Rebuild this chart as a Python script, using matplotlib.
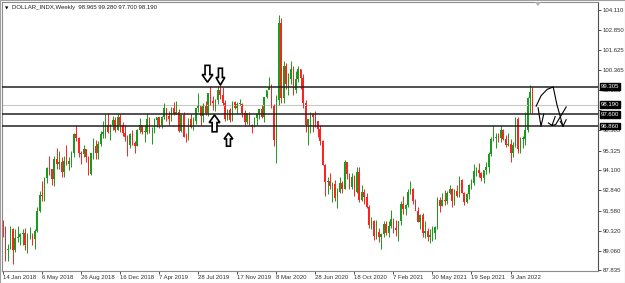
import matplotlib
matplotlib.use("Agg")
import matplotlib.pyplot as plt
from matplotlib.patches import Polygon, Rectangle
import numpy as np
import pandas as pd

plt.rcParams["font.family"] = ["Liberation Sans", "DejaVu Sans"]

# weekly candles, first week starts 14 Jan 2018
first_week = "2018-01-14"

opens = [90.95, 90.55, 89.10, 89.20, 90.40, 89.10, 89.85, 89.95, 90.10, 90.20,
         89.45, 90.10, 90.10, 89.80, 90.30, 91.55, 92.55, 92.50, 93.60, 94.25,
         94.15, 93.55, 94.80, 94.50, 94.60, 94.00, 94.65, 94.50, 94.65, 95.15,
         96.35, 96.10, 95.15, 95.10, 95.40, 94.95, 93.85, 95.15, 95.60, 95.20,
         95.75, 96.35, 96.50, 96.90, 96.50, 96.90, 97.25, 96.60, 97.45, 96.95,
         96.40, 96.20, 95.65, 96.35, 95.80, 95.60, 96.60, 96.90, 96.50, 96.50,
         97.30, 96.60, 96.60, 97.25, 97.40, 96.90, 97.40, 98.00, 97.50, 97.30,
         98.00, 97.60, 97.75, 96.55, 97.55, 96.20, 96.15, 97.30, 96.80, 97.15,
         98.00, 98.10, 97.50, 98.15, 97.65, 98.90, 98.40, 98.30, 98.50, 99.10,
         98.80, 98.30, 97.30, 97.85, 97.25, 98.35, 98.00, 98.25, 98.25, 97.70,
         97.10, 97.70, 96.95, 96.80, 97.35, 97.60, 97.90, 97.40, 98.70, 99.10,
         99.30, 98.10, 96.00, 98.50, 103.30, 98.60, 100.60, 99.50, 99.80, 100.40,
         99.10, 99.80, 100.40, 99.85, 98.30, 96.90, 97.30, 97.60, 97.40, 97.20,
         96.65, 95.90, 94.40, 93.35, 93.40, 93.10, 93.25, 92.35, 92.75, 93.30,
         92.95, 94.60, 93.85, 93.05, 93.70, 92.75, 94.00, 92.25, 92.75, 92.40,
         91.80, 90.70, 90.95, 90.00, 90.25, 89.90, 90.10, 90.75, 90.20, 90.60,
         91.05, 90.50, 90.35, 90.90, 92.00, 91.65, 91.90, 92.75, 92.95, 92.15,
         91.55, 90.85, 91.30, 90.20, 90.30, 89.95, 90.05, 90.15, 90.55, 92.25,
         91.85, 92.25, 92.15, 92.70, 92.90, 92.15, 92.80, 92.50, 93.50, 92.70,
         92.10, 92.60, 93.20, 93.30, 94.05, 94.10, 93.95, 93.60, 94.10, 94.30,
         95.10, 96.05, 96.10, 96.15, 96.10, 96.60, 96.05, 95.70, 95.75, 95.20,
         95.65, 97.30, 95.45, 96.05, 96.05, 96.60, 98.60, 98.965]
highs = [91.00, 90.60, 89.50, 90.60, 90.50, 90.40, 90.60, 90.20, 90.40, 90.50,
         90.20, 90.55, 90.20, 90.40, 91.80, 92.80, 93.40, 93.65, 94.30, 95.00,
         94.20, 95.00, 95.50, 95.30, 94.90, 95.00, 95.65, 94.90, 95.30, 96.40,
         96.95, 96.20, 95.30, 95.70, 95.40, 95.00, 95.20, 96.10, 96.00, 95.95,
         96.55, 97.20, 97.60, 97.70, 97.00, 97.50, 97.40, 97.70, 97.60, 97.10,
         96.95, 96.30, 96.45, 96.60, 95.90, 96.65, 97.35, 96.95, 96.90, 97.70,
         97.40, 96.80, 97.35, 97.40, 97.40, 97.50, 98.30, 98.00, 97.80, 98.05,
         98.35, 98.40, 97.90, 97.60, 97.75, 96.40, 97.35, 97.60, 97.40, 98.00,
         98.95, 98.10, 98.30, 98.45, 98.95, 99.35, 98.75, 98.55, 99.35, 99.65,
         99.30, 98.50, 97.90, 98.00, 98.45, 98.45, 98.35, 98.55, 98.30, 97.85,
         97.70, 97.75, 97.00, 97.45, 97.40, 97.90, 98.20, 98.70, 99.10, 99.90,
         99.50, 98.25, 98.80, 103.80, 103.60, 100.90, 100.80, 100.20, 100.90, 100.60,
         100.30, 100.60, 100.40, 100.10, 98.50, 97.30, 97.75, 97.70, 97.80, 97.20,
         96.90, 96.00, 94.50, 93.70, 93.95, 93.35, 93.50, 93.00, 93.65, 93.40,
         94.75, 94.60, 93.95, 93.90, 93.80, 94.30, 94.30, 93.20, 92.90, 92.70,
         91.95, 91.20, 91.00, 91.00, 90.50, 90.20, 90.95, 90.95, 90.95, 91.60,
         91.10, 91.00, 90.95, 92.15, 92.50, 92.00, 92.95, 93.45, 93.00, 92.30,
         91.80, 91.35, 91.40, 90.90, 90.50, 90.40, 90.60, 90.60, 92.40, 92.40,
         92.70, 92.85, 92.80, 93.20, 93.00, 92.90, 93.20, 93.75, 93.55, 92.75,
         92.70, 93.25, 93.55, 94.50, 94.30, 94.55, 94.00, 94.10, 94.60, 95.25,
         96.20, 96.95, 96.40, 96.45, 96.95, 96.65, 96.30, 96.45, 96.05, 95.85,
         97.45, 97.45, 96.20, 96.25, 97.75, 98.70, 99.40, 99.28]
lows = [89.95, 88.45, 88.40, 89.15, 88.25, 89.00, 89.60, 89.40, 89.40, 89.10,
        88.95, 89.80, 89.40, 89.20, 90.25, 91.50, 92.20, 92.20, 93.30, 93.80,
        93.20, 93.10, 94.20, 94.20, 93.70, 93.70, 94.40, 94.10, 94.30, 94.90,
        95.90, 94.90, 94.50, 94.90, 94.60, 93.80, 93.80, 94.80, 94.80, 94.80,
        95.60, 96.10, 96.10, 96.40, 96.00, 96.60, 96.50, 96.60, 96.50, 96.25,
        95.95, 95.00, 95.50, 95.70, 95.15, 95.60, 96.40, 96.35, 95.85, 96.35,
        96.40, 95.75, 96.40, 96.80, 96.75, 96.75, 97.30, 97.20, 96.95, 97.20,
        97.55, 97.60, 96.50, 96.50, 96.15, 95.85, 96.00, 96.75, 96.60, 97.00,
        97.75, 96.95, 97.10, 97.55, 97.50, 98.15, 97.85, 97.80, 98.25, 98.55,
        98.20, 97.20, 97.25, 97.10, 97.20, 97.90, 97.70, 98.15, 97.40, 96.85,
        97.00, 96.85, 96.40, 96.80, 96.95, 97.30, 97.35, 97.10, 98.60, 99.20,
        98.00, 95.60, 94.55, 98.20, 98.30, 98.30, 99.20, 98.80, 99.50, 98.80,
        98.90, 99.60, 99.20, 98.00, 96.50, 95.70, 96.40, 96.50, 96.80, 96.20,
        95.70, 94.40, 92.50, 92.60, 92.90, 92.10, 92.20, 91.75, 92.70, 92.70,
        92.90, 93.55, 92.95, 92.95, 92.50, 92.70, 92.10, 92.15, 92.00, 91.75,
        90.50, 90.45, 89.75, 89.80, 89.60, 89.20, 89.95, 90.05, 89.95, 90.50,
        90.20, 90.00, 89.70, 90.70, 91.35, 91.30, 91.80, 92.60, 92.00, 91.60,
        90.85, 90.40, 89.95, 89.85, 89.70, 89.55, 89.65, 89.80, 90.40, 91.50,
        91.85, 91.90, 92.00, 92.60, 91.80, 91.95, 92.45, 92.45, 92.65, 91.95,
        92.05, 92.30, 92.95, 93.20, 93.75, 93.70, 93.45, 93.30, 93.85, 93.90,
        95.00, 95.95, 95.50, 95.85, 95.85, 96.00, 95.55, 95.60, 94.60, 94.95,
        95.55, 95.15, 95.15, 95.50, 95.70, 96.50, 97.70, 97.70]
closes = [90.55, 89.10, 89.20, 90.40, 89.10, 89.85, 89.95, 90.10, 90.20, 89.45,
          90.10, 90.10, 89.80, 90.30, 91.55, 92.55, 92.50, 93.60, 94.25, 94.15,
          93.55, 94.80, 94.50, 94.60, 94.00, 94.65, 94.50, 94.65, 95.15, 96.35,
          96.10, 95.15, 95.10, 95.40, 94.95, 93.85, 95.15, 95.60, 95.20, 95.75,
          96.35, 96.50, 96.90, 96.50, 96.90, 97.25, 96.60, 97.45, 96.95, 96.40,
          96.20, 95.65, 96.35, 95.80, 95.60, 96.60, 96.90, 96.50, 96.50, 97.30,
          96.60, 96.60, 97.25, 97.40, 96.90, 97.40, 98.00, 97.50, 97.30, 98.00,
          97.60, 97.75, 96.55, 97.55, 96.20, 96.15, 97.30, 96.80, 97.15, 98.00,
          98.10, 97.50, 98.15, 97.65, 98.90, 98.40, 98.30, 98.50, 99.10, 98.80,
          98.30, 97.30, 97.85, 97.25, 98.35, 98.00, 98.25, 98.25, 97.70, 97.10,
          97.70, 96.95, 96.80, 97.35, 97.60, 97.90, 97.40, 98.70, 99.10, 99.30,
          98.10, 96.00, 98.50, 103.30, 98.60, 100.60, 99.50, 99.80, 100.40, 99.10,
          99.80, 100.40, 99.85, 98.30, 96.90, 97.30, 97.60, 97.40, 97.20, 96.65,
          95.90, 94.40, 93.35, 93.40, 93.10, 93.25, 92.35, 92.75, 93.30, 92.95,
          94.60, 93.85, 93.05, 93.70, 92.75, 94.00, 92.25, 92.75, 92.40, 91.80,
          90.70, 90.95, 90.00, 90.25, 89.90, 90.10, 90.75, 90.20, 90.60, 91.05,
          90.50, 90.35, 90.90, 92.00, 91.65, 91.90, 92.75, 92.95, 92.15, 91.55,
          90.85, 91.30, 90.20, 90.30, 89.95, 90.05, 90.15, 90.55, 92.25, 91.85,
          92.25, 92.15, 92.70, 92.90, 92.15, 92.80, 92.50, 93.50, 92.70, 92.10,
          92.60, 93.20, 93.30, 94.05, 94.10, 93.95, 93.60, 94.10, 94.30, 95.10,
          96.05, 96.10, 96.15, 96.10, 96.60, 96.05, 95.70, 95.75, 95.20, 95.65,
          97.30, 95.45, 96.05, 96.05, 96.60, 98.60, 98.965, 98.19]

price_ticks = [104.110, 102.850, 101.625, 100.365, 99.105, 97.845, 96.585,
               95.325, 94.100, 92.840, 91.580, 90.320, 89.060, 87.835]
hidden_ticks = [97.845]  # sits fully under the level boxes
date_labels = ["14 Jan 2018", "6 May 2018", "26 Aug 2018", "16 Dec 2018",
               "7 Apr 2019", "28 Jul 2019", "17 Nov 2019", "8 Mar 2020",
               "28 Jun 2020", "18 Oct 2020", "7 Feb 2021", "30 May 2021",
               "19 Sep 2021", "9 Jan 2022"]
level_lines = [99.305, 97.600, 96.860]
current_price = 98.190
header = "DOLLAR_INDX,Weekly  98.965 99.280 97.700 98.190"

weeks = pd.date_range(first_week, periods=len(closes), freq="7D")
x = np.arange(len(weeks))
o, h, l, c = map(np.array, (opens, highs, lows, closes))
up = c >= o

W, H = 625, 283
fig = plt.figure(figsize=(W / 100, H / 100), dpi=100)
ax = fig.add_axes([2 / W, 12 / H, 596 / W, 269 / H])
ax.set_xlim(-0.41, 243.85)
ax.set_ylim(87.80, 104.61)

green, red = "#1a9a1a", "#ff2020"
cols = np.where(up, green, red)
ax.vlines(x, l, h, colors=cols, linewidth=0.7)
ax.bar(x, np.maximum(np.abs(c - o), 0.04), bottom=np.minimum(o, c), width=0.62,
       color=cols, linewidth=0)

# levels
ax.axhline(current_price, color="#c8c8c8", linewidth=0.8, zorder=1)
for lv in level_lines:
    ax.axhline(lv, color="#202020", linewidth=1.1, zorder=3)


# hollow block arrows: candle index, tip price, direction, half width, length
def block_arrow(xi, tip, direction, half, length):
    head = length * 0.45
    shaft = half * 0.45
    d = direction
    pts = [(xi, tip), (xi - half, tip - d * head), (xi - shaft, tip - d * head),
           (xi - shaft, tip - d * length), (xi + shaft, tip - d * length),
           (xi + shaft, tip - d * head), (xi + half, tip - d * head)]
    ax.add_patch(Polygon(pts, closed=True, facecolor="white", edgecolor="black",
                         linewidth=1.2, zorder=5))


block_arrow(83.8, 99.60, -1, 2.2, 1.05)
block_arrow(89.1, 99.42, -1, 1.8, 1.05)
block_arrow(86.7, 97.55, 1, 2.2, 1.05)
block_arrow(92.4, 96.42, 1, 1.8, 0.82)

# hand drawn strokes after the last candle
pen = dict(color="black", lw=0.8, zorder=5)
ax.plot([218.5, 220.5, 223.0, 225.5, 227.0, 229.5],
        [98.10, 98.75, 99.15, 99.30, 98.20, 96.85], **pen)
ax.plot([228.4, 229.5, 230.8], [97.15, 96.85, 97.25], **pen)
ax.plot([219.3, 220.0, 220.5, 221.6], [98.0, 97.3, 96.85, 97.6], **pen)
ax.plot([223.5, 225.0, 226.3], [97.05, 96.9, 97.45], **pen)
ax.plot([230.8, 226.5, 225.0], [98.05, 96.95, 96.9], **pen)

# frame and axis styling
for s in ax.spines.values():
    s.set_color("#8c8c8c")
    s.set_linewidth(0.8)
ax.spines["right"].set_color("#505050")

fs = 4.3
ax.yaxis.tick_right()
ax.set_yticks(price_ticks)
ax.set_yticklabels(["" if p in hidden_ticks else f"{p:.3f}" for p in price_ticks],
                   fontsize=fs, color="#303030")
ax.tick_params(axis="y", length=2, width=0.6, pad=1.2, colors="#303030")
ax.set_xticks(x[::16][:len(date_labels)])
ax.set_xticklabels(date_labels, fontsize=fs, ha="left", color="#303030")
ax.tick_params(axis="x", length=2, width=0.6, pad=1.0, colors="#303030")

# price boxes on the scale
for lv in level_lines + [current_price]:
    ax.annotate(f"{lv:.3f}", xy=(1.0, lv), xycoords=("axes fraction", "data"),
                xytext=(2.2, 0), textcoords="offset points", fontsize=fs,
                color="white", va="center", ha="left", zorder=6,
                bbox=dict(boxstyle="square,pad=0.15", fc="black", ec="black"),
                annotation_clip=False)

# header and shift marker
fig.text(5 / W, 1 - 8 / H, "\u25bc", fontsize=3.2, va="center", color="black",
         family="DejaVu Sans")
fig.text(12 / W, 1 - 8 / H, header, fontsize=fs, va="center", color="#202020")
fig.patches.append(Polygon([(535 / W, 1 - 2 / H), (541 / W, 1 - 2 / H), (538 / W, 1 - 6 / H)],
                           closed=True, transform=fig.transFigure, fc="#b0b0b0", ec="none"))
fig.patches.append(Rectangle((0, 0), 1, 1, transform=fig.transFigure, fill=False,
                             ec="#a0a0a0", lw=0.8))

fig.savefig("out.png", dpi=100, facecolor="white")
